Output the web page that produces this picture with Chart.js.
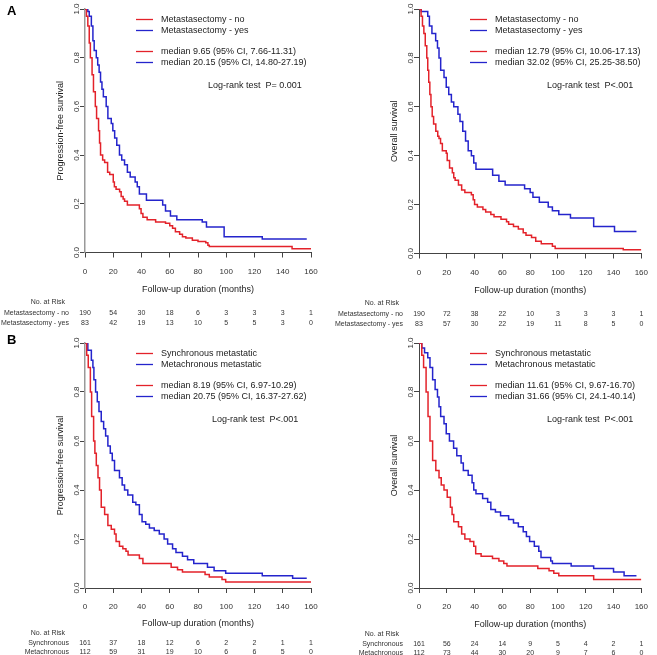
<!DOCTYPE html>
<html>
<head>
<meta charset="utf-8">
<title>Kaplan-Meier curves</title>
<script src="https://cdn.jsdelivr.net/npm/chart.js@4.4.0/dist/chart.umd.min.js"></script>
<style>
  body { margin: 0; background: #fff; }
  #wrap { position: relative; width: 657px; height: 655px; }
  canvas { position: absolute; }
</style>
</head>
<body>
<div id="wrap">
  <canvas id="pfsA" width="330" height="330" style="left:0;top:0"></canvas>
  <canvas id="osA" width="327" height="330" style="left:330px;top:0"></canvas>
  <canvas id="pfsB" width="330" height="325" style="left:0;top:330px"></canvas>
  <canvas id="osB" width="327" height="325" style="left:330px;top:330px"></canvas>
</div>
<script>
// follow-up times (months) where risk counts are given
const riskTimes = [0, 20, 40, 60, 80, 100, 120, 140, 160];

// A: metastasectomy, PFS
const pfsNoT = [0, 1, 2, 3, 3.8, 5, 6, 7.3, 8.2, 9.6, 10.3, 11, 12.5, 13.9, 16, 17.5, 20, 20.8, 22, 24.5, 25.6, 27, 28, 30, 38.5, 39.7, 41, 44, 50, 57, 60, 62, 64, 67, 69, 71.4, 76, 80, 85.5, 87, 88, 146.6, 160];
const pfsNoS = [1, 0.97, 0.93, 0.86, 0.8, 0.73, 0.66, 0.6, 0.55, 0.5, 0.45, 0.4, 0.38, 0.37, 0.33, 0.32, 0.29, 0.27, 0.26, 0.25, 0.23, 0.22, 0.21, 0.195, 0.18, 0.16, 0.145, 0.135, 0.125, 0.12, 0.11, 0.1, 0.085, 0.075, 0.065, 0.06, 0.05, 0.045, 0.04, 0.03, 0.025, 0.015, 0.015];
const pfsYesT = [0, 2, 3, 4.5, 5.6, 6.5, 8, 9, 10, 11, 12, 13, 15, 16.2, 18.6, 19.7, 21, 22.5, 24.4, 26, 28, 30, 32, 35.5, 37, 38.5, 43.5, 55, 57, 60.5, 65, 83, 86, 98.5, 125.5, 157];
const pfsYesS = [1, 0.99, 0.97, 0.93, 0.87, 0.83, 0.8, 0.77, 0.74, 0.7, 0.67, 0.64, 0.6, 0.55, 0.53, 0.5, 0.47, 0.44, 0.4, 0.38, 0.36, 0.33, 0.31, 0.29, 0.27, 0.24, 0.215, 0.195, 0.17, 0.15, 0.135, 0.125, 0.105, 0.065, 0.055, 0.055];
const pfsNoRisk = [190, 54, 30, 18, 6, 3, 3, 3, 1];
const pfsYesRisk = [83, 42, 19, 13, 10, 5, 5, 3, 0];

// A: metastasectomy, OS
const osNoT = [0, 1.5, 2.5, 3.5, 4.5, 5.6, 6.3, 7, 7.8, 8.6, 9.5, 10.5, 12.1, 13.5, 14.4, 15.5, 16.8, 19.6, 20.3, 22, 24, 25, 26, 28.4, 30.7, 33, 37.7, 39, 40, 42, 46, 48, 51.7, 54, 59, 63, 64.5, 68, 71.5, 75, 77, 81, 84, 88, 96, 98, 147, 160];
const osNoS = [1, 0.97, 0.93, 0.9, 0.85, 0.8, 0.75, 0.7, 0.65, 0.6, 0.56, 0.53, 0.5, 0.48, 0.47, 0.45, 0.42, 0.41, 0.38, 0.35, 0.33, 0.31, 0.3, 0.28, 0.26, 0.25, 0.24, 0.22, 0.2, 0.19, 0.18, 0.17, 0.16, 0.15, 0.14, 0.13, 0.12, 0.11, 0.1, 0.085, 0.075, 0.065, 0.05, 0.04, 0.03, 0.02, 0.015, 0.015];
const osYesT = [0, 1.6, 6.3, 7.5, 9.3, 12, 13.3, 14.4, 15.6, 18, 19.6, 21.4, 23.3, 25, 28, 29.5, 31.5, 33.5, 35.4, 37.7, 39.4, 41, 53, 57.5, 62, 76, 80, 82, 86.6, 93, 96, 100.6, 109, 125.7, 140.7, 156.5];
const osYesS = [1, 0.99, 0.97, 0.93, 0.9, 0.87, 0.84, 0.8, 0.75, 0.72, 0.68, 0.65, 0.62, 0.6, 0.57, 0.54, 0.5, 0.46, 0.42, 0.4, 0.37, 0.345, 0.32, 0.295, 0.28, 0.265, 0.25, 0.23, 0.21, 0.19, 0.175, 0.16, 0.145, 0.11, 0.09, 0.09];
const osNoRisk = [190, 72, 38, 22, 10, 3, 3, 3, 1];
const osYesRisk = [83, 57, 30, 22, 19, 11, 8, 5, 0];

// B: synchronous vs metachronous, PFS
const syncPfsT = [0, 1.2, 2.3, 3.8, 4.7, 6.1, 7, 8, 9.2, 10.3, 11.5, 13.9, 16.2, 18.6, 20.9, 22, 24.4, 26.8, 29, 30.5, 38.5, 41, 61, 65.5, 69, 85, 88, 97, 99.6, 160];
const syncPfsS = [1, 0.95, 0.9, 0.8, 0.7, 0.6, 0.55, 0.5, 0.45, 0.4, 0.33, 0.3, 0.255, 0.24, 0.22, 0.19, 0.17, 0.16, 0.15, 0.135, 0.12, 0.1, 0.085, 0.075, 0.065, 0.055, 0.045, 0.035, 0.025, 0.025];
const metaPfsT = [0, 2, 4.5, 5.6, 6.3, 7.5, 8.7, 9.9, 11.5, 13.2, 14.6, 16.2, 17.9, 19.3, 20.9, 24.4, 26.3, 28, 30.3, 33.8, 36, 38.5, 40.4, 43, 45.6, 49, 52.6, 56, 58.5, 62, 64.4, 69, 72.6, 77, 86.7, 91.4, 99.6, 125.5, 147, 157];
const metaPfsS = [1, 0.97, 0.93, 0.9, 0.85, 0.8, 0.76, 0.72, 0.68, 0.65, 0.62, 0.58, 0.55, 0.52, 0.48, 0.45, 0.42, 0.4, 0.38, 0.35, 0.34, 0.3, 0.27, 0.26, 0.245, 0.235, 0.22, 0.2, 0.18, 0.16, 0.145, 0.13, 0.115, 0.1, 0.085, 0.07, 0.06, 0.05, 0.04, 0.04];
const syncPfsRisk = [161, 37, 18, 12, 6, 2, 2, 1, 1];
const metaPfsRisk = [112, 59, 31, 19, 10, 6, 6, 5, 0];

// B: synchronous vs metachronous, OS
const syncOsT = [0, 2, 3.3, 5.1, 6.5, 7.9, 9.8, 12.1, 14.4, 16, 18, 20.3, 22.6, 23.8, 25, 28.4, 30.7, 33, 36.7, 39.4, 40.8, 44.7, 52.9, 57.5, 61, 63.3, 85.5, 93.6, 97, 100.6, 125.7, 160];
const syncOsS = [1, 0.95, 0.9, 0.8, 0.7, 0.6, 0.52, 0.48, 0.45, 0.42, 0.4, 0.37, 0.33, 0.3, 0.27, 0.25, 0.22, 0.2, 0.19, 0.17, 0.14, 0.13, 0.12, 0.11, 0.1, 0.09, 0.08, 0.07, 0.06, 0.05, 0.035, 0.035];
const metaOsT = [0, 2, 4, 6.3, 7.9, 9.8, 11.6, 13.3, 14.4, 15.6, 18, 19.6, 21.9, 24.9, 27.2, 30.3, 31.9, 35.4, 38.2, 39.4, 41, 45.8, 49.4, 51.7, 55, 58.7, 64.5, 68, 71.5, 75, 77.3, 79.6, 83, 86.2, 87.8, 94.8, 96, 109.5, 125.7, 140, 147.6, 156.5];
const metaOsS = [1, 0.98, 0.96, 0.94, 0.9, 0.85, 0.81, 0.78, 0.74, 0.7, 0.67, 0.63, 0.6, 0.57, 0.54, 0.51, 0.48, 0.46, 0.43, 0.4, 0.385, 0.365, 0.35, 0.32, 0.31, 0.295, 0.28, 0.265, 0.25, 0.23, 0.21, 0.19, 0.17, 0.15, 0.125, 0.11, 0.1, 0.09, 0.08, 0.065, 0.05, 0.05];
const syncOsRisk = [161, 56, 24, 14, 9, 5, 4, 2, 1];
const metaOsRisk = [112, 73, 44, 30, 20, 9, 7, 6, 0];

// texts
const groupsA = ['Metastasectomy - no', 'Metastasectomy - yes'];
const groupsB = ['Synchronous metastatic', 'Metachronous metastatic'];
const riskRowsB = ['Synchronous', 'Metachronous'];
const mediansPfsA = ['median 9.65 (95% CI, 7.66-11.31)', 'median 20.15 (95% CI, 14.80-27.19)'];
const mediansOsA = ['median 12.79 (95% CI, 10.06-17.13)', 'median 32.02 (95% CI, 25.25-38.50)'];
const mediansPfsB = ['median 8.19 (95% CI, 6.97-10.29)', 'median 20.75 (95% CI, 16.37-27.62)'];
const mediansOsB = ['median 11.61 (95% CI, 9.67-16.70)', 'median 31.66 (95% CI, 24.1-40.14)'];

const FONT = '"Liberation Sans", Arial, sans-serif';
const COLORS = ['#e3222a', '#2424cc'];

function kmChart(id, o) {
  const canvas = document.getElementById(id);
  const W = canvas.width, H = canvas.height;
  const XH = o.xTitleY + 5.4 - o.bottom;   // x scale height so the title lands where wanted

  const annotate = {
    id: 'annotate',
    afterDraw(chart) {
      const ctx = chart.ctx, a = chart.chartArea, xs = chart.scales.x;
      ctx.save();
      ctx.textBaseline = 'middle';
      ctx.fillStyle = '#000';
      if (o.letter) {
        ctx.font = 'bold 13px ' + FONT;
        ctx.textAlign = 'left';
        ctx.fillText(o.letter, 7, o.letterY);
      }
      // legend block
      ctx.font = '9px ' + FONT;
      ctx.textAlign = 'left';
      const rows = [o.groups[0], o.groups[1], o.medians[0], o.medians[1]];
      const offs = [10.5, 21.5, 42.5, 53.5];
      rows.forEach((txt, i) => {
        const y = a.top + offs[i];
        ctx.strokeStyle = COLORS[i % 2];
        ctx.lineWidth = 1.3;
        ctx.beginPath();
        ctx.moveTo(a.left + 51, y);
        ctx.lineTo(a.left + 68, y);
        ctx.stroke();
        ctx.fillStyle = '#222';
        ctx.fillText(txt, a.left + 76, y);
      });
      ctx.fillText(o.logrank, a.left + o.logrankX, a.top + 77);
      // numbers at risk
      ctx.font = '7px ' + FONT;
      ctx.fillStyle = '#333';
      ctx.textAlign = 'right';
      ctx.fillText('No. at Risk', a.left - 20, o.riskY[0]);
      o.riskRows.forEach((lab, r) => {
        ctx.textAlign = 'right';
        ctx.fillText(lab, a.left - 16, o.riskY[r + 1]);
        ctx.textAlign = 'center';
        o.risk[r].forEach((n, k) => {
          ctx.fillText(String(n), xs.getPixelForValue(riskTimes[k]), o.riskY[r + 1]);
        });
      });
      ctx.restore();
    }
  };

  return new Chart(canvas, {
    type: 'line',
    data: {
      datasets: o.curves.map((c, i) => ({
        label: o.groups[i],
        data: c.t.map((t, k) => ({ x: t, y: c.s[k] })),
        borderColor: COLORS[i],
        borderWidth: 1.5,
        pointRadius: 0,
        stepped: true,
        fill: false
      }))
    },
    options: {
      responsive: false,
      animation: false,
      devicePixelRatio: 1,
      layout: { padding: { left: 0, top: o.top, right: W - o.right, bottom: H - o.bottom - XH } },
      plugins: { legend: { display: false }, tooltip: { enabled: false } },
      scales: {
        x: {
          type: 'linear', min: 0, max: 160,
          ticks: { stepSize: 20, maxRotation: 0, padding: 9, color: '#333', font: { family: FONT, size: 8 } },
          grid: { drawOnChartArea: false, drawTicks: true, tickLength: 5, color: '#444' },
          border: { display: true, color: '#444' },
          title: { display: true, text: 'Follow-up duration (months)', padding: 0, color: '#222', font: { family: FONT, size: 9 } },
          afterFit: s => { s.height = XH; }
        },
        y: {
          min: 0, max: 1,
          ticks: {
            stepSize: 0.2, minRotation: 90, maxRotation: 90, crossAlign: 'center', padding: -2,
            color: '#333', font: { family: FONT, size: 8 },
            callback: v => v.toFixed(1)
          },
          grid: { drawOnChartArea: false, drawTicks: true, tickLength: 5, color: '#444' },
          border: { display: true, color: o.yAxisColor, width: o.yAxisWidth },
          title: { display: true, text: o.yTitle, padding: { top: o.yTitleX - 5.4, bottom: 0 }, color: '#222', font: { family: FONT, size: 9 } },
          afterFit: s => { s.width = o.left; }
        }
      }
    },
    plugins: [annotate]
  });
}

kmChart('pfsA', {
  left: 85, right: 311, top: 9, bottom: 252.5, xTitleY: 290, yTitleX: 61,
  yTitle: 'Progression-free survival', yAxisColor: '#999', yAxisWidth: 1.5,
  letter: 'A', letterY: 11,
  curves: [{ t: pfsNoT, s: pfsNoS }, { t: pfsYesT, s: pfsYesS }],
  groups: groupsA, medians: mediansPfsA, logrank: 'Log-rank test  P= 0.001', logrankX: 123,
  riskRows: groupsA, risk: [pfsNoRisk, pfsYesRisk], riskY: [302.5, 313.5, 323.5]
});
kmChart('osA', {
  left: 89, right: 317, top: 9, bottom: 253.5, xTitleY: 291, yTitleX: 65,
  yTitle: 'Overall survival', yAxisColor: '#444', yAxisWidth: 1,
  curves: [{ t: osNoT, s: osNoS }, { t: osYesT, s: osYesS }],
  groups: groupsA, medians: mediansOsA, logrank: 'Log-rank test  P<.001', logrankX: 128,
  riskRows: groupsA, risk: [osNoRisk, osYesRisk], riskY: [303.5, 314.5, 324.5]
});
kmChart('pfsB', {
  left: 85, right: 311, top: 13, bottom: 258, xTitleY: 294, yTitleX: 61,
  yTitle: 'Progression-free survival', yAxisColor: '#999', yAxisWidth: 1.5,
  letter: 'B', letterY: 10,
  curves: [{ t: syncPfsT, s: syncPfsS }, { t: metaPfsT, s: metaPfsS }],
  groups: groupsB, medians: mediansPfsB, logrank: 'Log-rank test  P<.001', logrankX: 127,
  riskRows: riskRowsB, risk: [syncPfsRisk, metaPfsRisk], riskY: [303, 313.5, 322]
});
kmChart('osB', {
  left: 89, right: 317, top: 13, bottom: 258, xTitleY: 295, yTitleX: 65,
  yTitle: 'Overall survival', yAxisColor: '#444', yAxisWidth: 1,
  curves: [{ t: syncOsT, s: syncOsS }, { t: metaOsT, s: metaOsS }],
  groups: groupsB, medians: mediansOsB, logrank: 'Log-rank test  P<.001', logrankX: 128,
  riskRows: riskRowsB, risk: [syncOsRisk, metaOsRisk], riskY: [304, 314.5, 323]
});
</script>
</body>
</html>
